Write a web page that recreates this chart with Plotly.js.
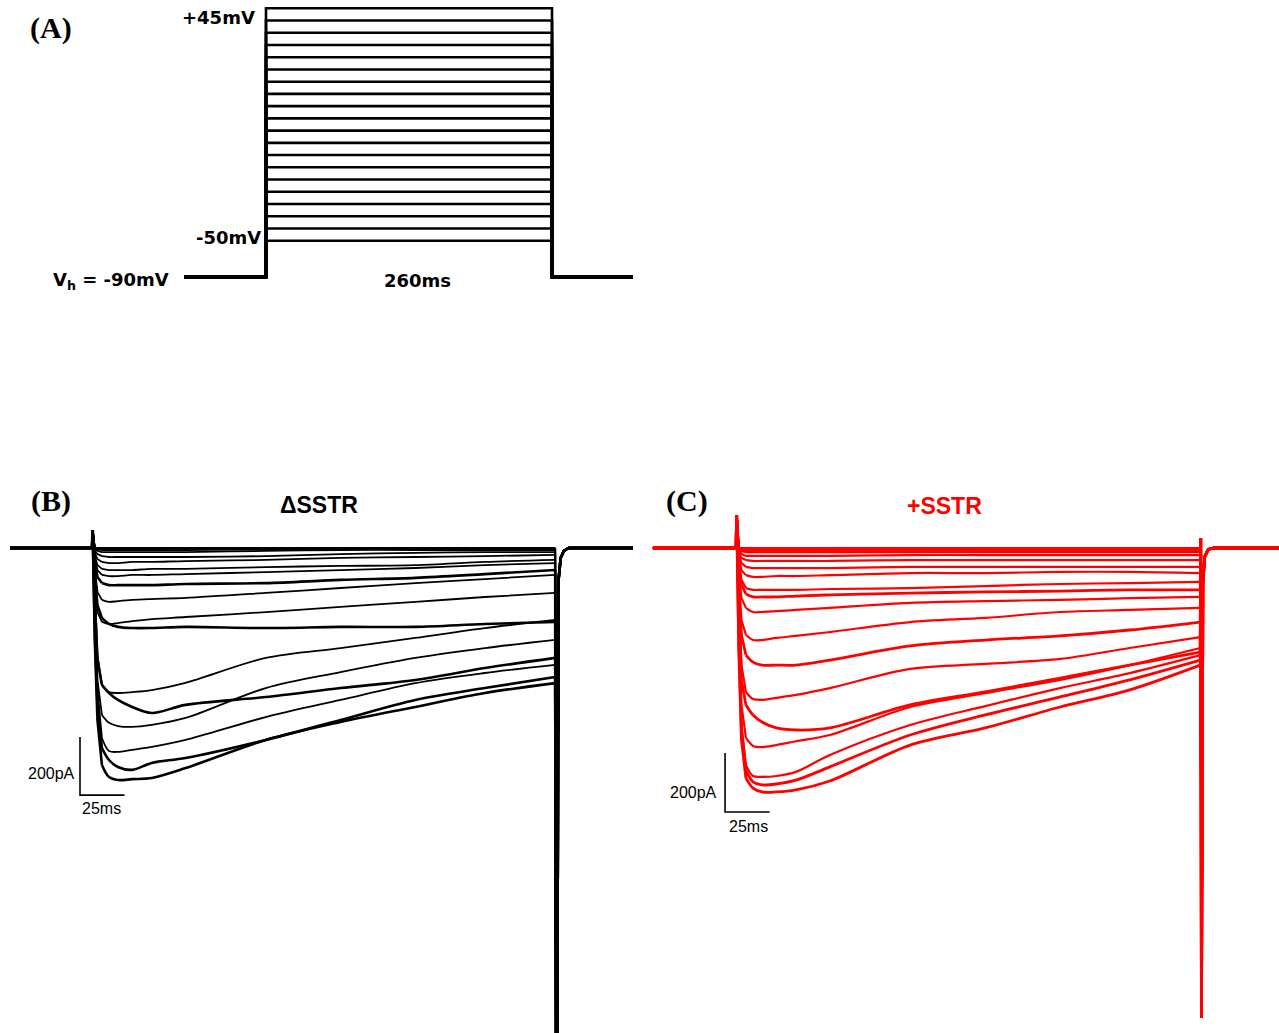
<!DOCTYPE html>
<html><head><meta charset="utf-8">
<script src="https://cdn.plot.ly/plotly-3.0.1.min.js"></script>
<style>html,body{margin:0;padding:0;background:#fff;overflow:hidden}#chart{width:1279px;height:1033px}</style>
</head><body><div id="chart"></div>
<script>
// ---------------- Panel A: voltage protocol ----------------
const protocolSteps_mV = [-50, -45, -40, -35, -30, -25, -20, -15, -10, -5, 0, 5, 10, 15, 20, 25, 30, 35, 40, 45];
const holdingPotential_mV = -90;
const holdingDrawnAt_mV = -64.8;      // schematic: the drawing is not to scale below -50 mV
const stepDuration_ms = 260;
const protocolPre_ms = -74.5;
const protocolPost_ms = 333.6;

// ---------------- Panel B (ΔSSTR) currents, pA ----------------
const sweepTimes_ms = [1, 2.5, 5, 9, 14, 22, 33, 52, 97, 139, 181, 220, 259.5];
const b_m50 = [0, 0, 0, 0, 0, 0, 0, 0, 0, 0, 0, 0, 0];
const b_m45 = [0, 0, 0, 0, 0, 0, 0, 0, 0, 0, 0, 0, 0];
const b_m40 = [-3, -10, -14, -14, -14, -14, -14, -14, -10, -7, -7, -7, -7];
const b_m35 = [-17, -38, -48, -52, -52, -48, -48, -45, -41, -34, -31, -28, -24];
const b_m30 = [-48, -100, -121, -128, -128, -128, -128, -124, -121, -110, -103, -90, -76];
const b_m25 = [-93, -197, -241, -262, -272, -276, -276, -272, -276, -272, -272, -262, -255];
const b_m20 = [-179, -386, -472, -500, -524, -548, -569, -541, -514, -483, -455, -414, -379];
const b_m15 = [-283, -541, -690, -731, -755, -765, -741, -724, -662, -593, -524, -483, -445];
const b_m10 = [-317, -593, -748, -790, -800, -797, -793, -759, -662, -600, -548, -500, -466];
const b_m5  = [-248, -490, -655, -700, -703, -696, -686, -662, -583, -524, -466, -431, -403];
const b_0   = [-197, -455, -576, -603, -614, -617, -610, -586, -483, -428, -379, -345, -317];
const b_p5  = [-145, -369, -472, -497, -500, -497, -490, -465, -379, -345, -310, -276, -248];
const b_p10 = [-110, -221, -255, -262, -259, -252, -245, -238, -221, -203, -186, -169, -155];
const b_p15 = [-69, -152, -179, -186, -183, -179, -176, -172, -155, -138, -121, -107, -93];
const b_p20 = [-34, -76, -93, -97, -97, -93, -93, -90, -83, -76, -69, -59, -52];
const b_p25 = [-28, -59, -72, -76, -76, -76, -72, -72, -66, -62, -59, -48, -41];
const b_p30 = [-10, -21, -28, -31, -31, -31, -31, -31, -28, -21, -17, -14, -14];
const b_p35 = [-2, -5, -7, -7, -7, -7, -7, -7, -5, -3, -3, -3, -3];
const b_p40 = [-1, -2, -3, -3, -3, -3, -3, -3, -2, -2, -2, -2, -2];
const b_p45 = [0, 0, 0, 0, 0, 0, 0, 0, 0, 0, 0, 0, 0];
const bNoisy = ['-30', '-25', '-20', '-15', '-10'];
const bOnsetTimes = [-0.5, -0.2], bOnsetCurrents = [0, 62];
const bTailTimes = [260.3, 261.4, 262.6, 264.4, 267], bTailCurrents = [-2600, -110, -34, -10, 0];
const bHolding_ms = [-46.6, 303.2];

// ---------------- Panel C (+SSTR) currents, pA ----------------
const c_m50 = [0, 0, 0, 0, 0, 0, 0, 0, 0, 0, 0, 0, 0];
const c_m45 = [0, 0, 0, 0, 0, 0, 0, 0, 0, 0, 0, 0, 0];
const c_m40 = [-3, -7, -7, -7, -7, -7, -7, -7, -7, -7, -7, -7, -7];
const c_m35 = [-7, -20, -27, -27, -27, -27, -27, -27, -24, -24, -24, -24, -24];
const c_m30 = [-34, -75, -92, -98, -98, -95, -95, -92, -85, -85, -81, -81, -85];
const c_m25 = [-58, -125, -156, -166, -166, -166, -163, -159, -153, -149, -146, -142, -142];
const c_m20 = [-125, -295, -363, -387, -397, -397, -397, -380, -332, -312, -298, -278, -251];
const c_m15 = [-176, -448, -532, -566, -590, -610, -617, -610, -532, -488, -441, -397, -353];
const c_m10 = [-346, -651, -780, -814, -827, -827, -820, -790, -668, -610, -539, -481, -397];
const c_m5  = [-312, -617, -753, -793, -803, -800, -787, -742, -634, -566, -505, -447, -380];
const c_0   = [-278, -600, -736, -773, -776, -773, -759, -702, -600, -536, -475, -424, -363];
const c_p5  = [-244, -532, -644, -671, -675, -668, -655, -634, -539, -492, -447, -397, -339];
const c_p10 = [-176, -397, -488, -512, -515, -508, -498, -475, -410, -393, -376, -339, -302];
const c_p15 = [-108, -244, -295, -312, -312, -305, -298, -285, -251, -237, -217, -210, -203];
const c_p20 = [-75, -170, -203, -217, -217, -214, -210, -203, -186, -180, -176, -170, -166];
const c_p25 = [-47, -108, -136, -142, -142, -142, -142, -139, -136, -129, -122, -119, -115];
const c_p30 = [-24, -51, -64, -68, -68, -68, -68, -68, -64, -64, -64, -64, -64];
const c_p35 = [-14, -34, -41, -44, -44, -44, -44, -44, -41, -41, -41, -41, -41];
const c_p40 = [-3, -10, -14, -14, -14, -14, -14, -14, -14, -14, -14, -14, -14];
const c_p45 = [0, 0, 0, 0, 0, 0, 0, 0, 0, 0, 0, 0, 0];
const cNoisy = ['-25', '-20', '-15', '-10', '-5'];
const cOnsetTimes = [-0.5, -0.2], cOnsetCurrents = [0, 112];
const cTailTimes = [259.8, 260.2, 261, 262, 264, 267], cTailCurrents = [34, -1593, -120, -30, -5, 0];
const cHolding_ms = [-47.1, 304];

// scale bars
const scaleCurrent_pA = 200, scaleTime_ms = 25;

// ---------------- build ----------------
const W = 1279, H = 1033;
const px = x => x / W, py = y => 1 - y / H;
const bSweeps = [b_m50,b_m45,b_m40,b_m35,b_m30,b_m25,b_m20,b_m15,b_m10,b_m5,b_0,b_p5,b_p10,b_p15,b_p20,b_p25,b_p30,b_p35,b_p40,b_p45];
const cSweeps = [c_m50,c_m45,c_m40,c_m35,c_m30,c_m25,c_m20,c_m15,c_m10,c_m5,c_0,c_p5,c_p10,c_p15,c_p20,c_p25,c_p30,c_p35,c_p40,c_p45];

const traces = [];
protocolSteps_mV.forEach(v => {
  traces.push({
    x: [protocolPre_ms, 0, 0, stepDuration_ms, stepDuration_ms, protocolPost_ms],
    y: [holdingDrawnAt_mV, holdingDrawnAt_mV, v, v, holdingDrawnAt_mV, holdingDrawnAt_mV],
    xaxis: 'x3', yaxis: 'y3', mode: 'lines', line: {color: '#000', width: 2.6},
    hoverinfo: 'skip', name: v + ' mV'
  });
});

const SPLIT = 2; // index in sweepTimes_ms where the smooth (spline) part starts
function addSweeps(sweeps, noisy, onT, onI, tailT, tailI, hold, color, wNorm, wNoisy, xa, ya) {
  sweeps.forEach((vals, i) => {
    const v = String(protocolSteps_mV[i]);
    const w = noisy.includes(v) ? wNoisy : wNorm;
    const last = sweepTimes_ms.length - 1;
    traces.push({
      x: [hold[0]].concat(onT, sweepTimes_ms.slice(0, SPLIT + 1)),
      y: [0].concat(onI, vals.slice(0, SPLIT + 1)),
      xaxis: xa, yaxis: ya, mode: 'lines', line: {color: color, width: w},
      hoverinfo: 'skip', name: v + ' mV'
    });
    traces.push({
      x: sweepTimes_ms.slice(SPLIT),
      y: vals.slice(SPLIT),
      xaxis: xa, yaxis: ya, mode: 'lines', line: {color: color, width: w, shape: 'spline', smoothing: 0.9},
      hoverinfo: 'skip', name: v + ' mV'
    });
    traces.push({
      x: [sweepTimes_ms[last]].concat(tailT, [hold[1]]),
      y: [vals[last]].concat(tailI, [0]),
      xaxis: xa, yaxis: ya, mode: 'lines', line: {color: color, width: w},
      hoverinfo: 'skip', name: v + ' mV'
    });
  });
  traces.push({x: [hold[0], onT[0]], y: [0, 0], xaxis: xa, yaxis: ya, mode: 'lines', line: {color: color, width: 3.6}, hoverinfo: 'skip'});
  traces.push({x: [tailT[tailT.length - 1], hold[1]], y: [0, 0], xaxis: xa, yaxis: ya, mode: 'lines', line: {color: color, width: 3.6}, hoverinfo: 'skip'});
  traces.push({x: onT, y: onI, xaxis: xa, yaxis: ya, mode: 'lines', line: {color: color, width: 3}, hoverinfo: 'skip'});
}
addSweeps(bSweeps, bNoisy, bOnsetTimes, bOnsetCurrents, bTailTimes, bTailCurrents, bHolding_ms, '#000000', 1.8, 2.6, 'x', 'y');
addSweeps(cSweeps, cNoisy, cOnsetTimes, cOnsetCurrents, cTailTimes, cTailCurrents, cHolding_ms, '#ff0000', 2.2, 2.8, 'x2', 'y2');

const bBar = {t: -7.3, i: -852}, cBar = {t: -6.7, i: -895};
traces.push({x: [bBar.t, bBar.t, bBar.t + scaleTime_ms], y: [bBar.i + scaleCurrent_pA, bBar.i, bBar.i],
  xaxis: 'x', yaxis: 'y', mode: 'lines', line: {color: '#000', width: 1.6}, hoverinfo: 'skip'});
traces.push({x: [cBar.t, cBar.t, cBar.t + scaleTime_ms], y: [cBar.i + scaleCurrent_pA, cBar.i, cBar.i],
  xaxis: 'x2', yaxis: 'y2', mode: 'lines', line: {color: '#000', width: 1.6}, hoverinfo: 'skip'});

const hidden = {visible: false, fixedrange: true};
const sansB = 'DejaVu Sans, sans-serif';
const arial = 'Liberation Sans, Arial, sans-serif';
const times = 'Liberation Serif, Times New Roman, serif';
function ann(text, x, y, xanchor, font) {
  return {text: text, x: px(x), y: py(y), xref: 'paper', yref: 'paper', xanchor: xanchor, yanchor: 'middle', showarrow: false, font: font};
}
const protoFont = {family: sansB, size: 18, color: '#000', weight: 'bold'};
const annotations = [
  ann('(A)', 28, 28, 'left', {family: times, size: 30, color: '#000', weight: 'bold'}),
  ann('(B)', 29, 501, 'left', {family: times, size: 30, color: '#000', weight: 'bold'}),
  ann('(C)', 664, 501, 'left', {family: times, size: 30, color: '#000', weight: 'bold'}),
  ann('+45mV', 257, 17, 'right', protoFont),
  ann('-50mV', 263, 237, 'right', protoFont),
  ann('V<sub>h</sub> = -90mV', 171, 281, 'right', protoFont),
  ann('260ms', 417, 281, 'center', protoFont),
  ann('ΔSSTR', 319, 505, 'center', {family: arial, size: 23, color: '#000', weight: 'bold'}),
  ann('+SSTR', 944, 506, 'center', {family: arial, size: 23, color: '#ff0000', weight: 'bold'}),
  ann('200pA', 77, 773, 'right', {family: arial, size: 16, color: '#000'}),
  ann('25ms', 102, 808, 'center', {family: arial, size: 16, color: '#000'}),
  ann('200pA', 719, 792, 'right', {family: arial, size: 16, color: '#000'}),
  ann('25ms', 748, 826, 'center', {family: arial, size: 16, color: '#000'})
];

const layout = {
  width: W, height: H, autosize: false,
  margin: {l: 0, r: 0, t: 0, b: 0, pad: 0},
  paper_bgcolor: '#fff', plot_bgcolor: 'rgba(0,0,0,0)',
  showlegend: false, hovermode: false,
  xaxis:  Object.assign({domain: [0, 0.5], range: [-52.22, 306.85], anchor: 'y'}, hidden),
  yaxis:  Object.assign({domain: [0, 0.6], range: [-1672.4, 464.8], anchor: 'x'}, hidden),
  xaxis2: Object.assign({domain: [0.5, 1], range: [-54.62, 303.64], anchor: 'y2'}, hidden),
  yaxis2: Object.assign({domain: [0, 0.6], range: [-1644.1, 456.9], anchor: 'x2'}, hidden),
  xaxis3: Object.assign({domain: [0, 0.6], range: [-241.8, 455.8], anchor: 'y3'}, hidden),
  yaxis3: Object.assign({domain: [0.7, 1], range: [-78.29, 48.39], anchor: 'x3'}, hidden),
  annotations: annotations
};
Plotly.newPlot('chart', traces, layout, {staticPlot: true, displayModeBar: false});
</script></body></html>
